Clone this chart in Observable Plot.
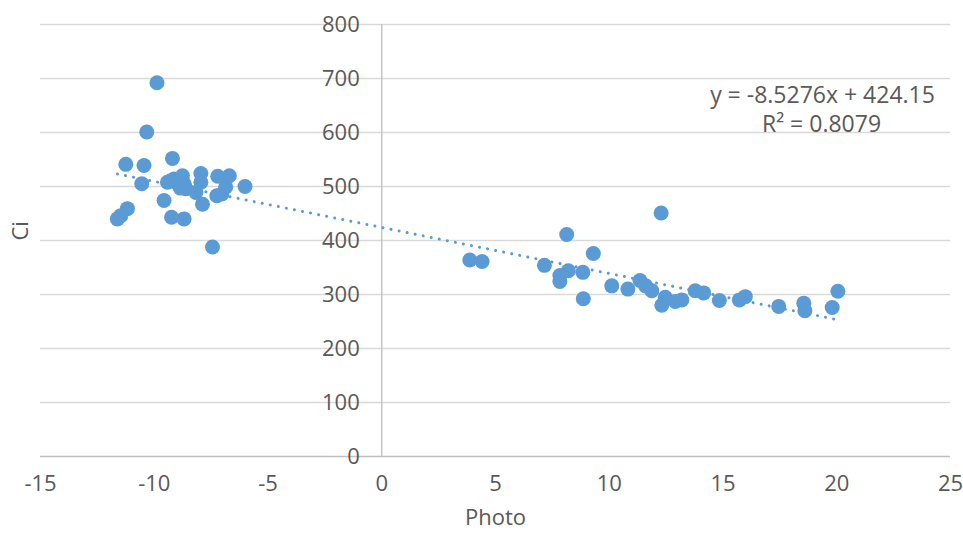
<!DOCTYPE html>
<html>
<head>
<meta charset="utf-8">
<script src="https://cdn.jsdelivr.net/npm/d3@7"></script>
<script src="https://cdn.jsdelivr.net/npm/@observablehq/plot@0.6"></script>
<style>
  html, body { margin: 0; padding: 0; background: #fff; }
  #chart { width: 963px; height: 535px; }
  svg { font-family: "Open Sans", sans-serif; }
</style>
</head>
<body>
<div id="chart"></div>
<script>
// Scatter data: Photo (x) vs Ci (y)
const photo = [
  -9.88, -10.33, -11.25, -10.45, -9.20, -10.55, -9.57, -9.42, -9.13, -8.76,
  -8.69, -8.91, -8.61, -7.95, -7.95, -8.17, -7.88, -7.21, -6.70, -6.86,
  -7.03, -7.25, -6.01, -9.24, -8.69, -11.18, -11.47, -11.62, -7.44, -9.30,
  -8.85,
  3.87, 4.41, 7.15, 8.13, 7.83, 7.83, 8.20, 8.84, 9.30, 8.86, 10.11, 10.82,
  12.28, 11.35, 11.60, 11.87, 12.46, 12.31, 12.90, 13.19, 13.78, 14.15,
  14.84, 15.72, 15.98, 17.45, 18.55, 18.60, 19.80, 20.05
];
const ci = [
  692, 601, 541, 539, 552, 505, 474, 508, 514, 520,
  505, 502, 496, 524, 508, 489, 467, 519, 520, 499,
  486, 483, 500, 443, 440, 459, 446, 440, 388, 510,
  497,
  364, 361, 354, 411, 335, 324, 344, 341, 376, 292, 316, 310,
  451, 326, 316, 307, 295, 280, 287, 290, 307, 303,
  289, 290, 296, 278, 284, 270, 276, 306
];
const xTicks = [-15, -10, -5, 0, 5, 10, 15, 20, 25];
const yTicks = [0, 100, 200, 300, 400, 500, 600, 700, 800];
const slope = -8.5276;
const intercept = 424.15;
const equationLines = ["y = -8.5276x + 424.15", "R² = 0.8079"];
const xTitle = "Photo";
const yTitle = "Ci";

const points = photo.map((x, i) => ({x, y: ci[i]}));
const [xmin, xmax] = d3.extent(photo);
const trend = [xmin, xmax].map(x => ({x, y: slope * x + intercept}));

const blue = "#5B9BD5";
const textColor = "#595959";

const chart = Plot.plot({
  width: 963,
  height: 535,
  marginLeft: 40,
  marginRight: 13,
  marginTop: 24,
  marginBottom: 79,
  x: {domain: [-15, 25], axis: null},
  y: {domain: [0, 800], axis: null},
  marks: [
    Plot.ruleY(yTicks.filter(d => d > 0), {stroke: "#d9d9d9", strokeWidth: 1.3}),
    Plot.ruleY([0], {stroke: "#bfbfbf", strokeWidth: 1.3}),
    Plot.ruleX([0], {stroke: "#bfbfbf", strokeWidth: 1.3}),
    Plot.text(yTicks, {x: 0, y: d => d, text: d => String(d), textAnchor: "end", dx: -22, fill: textColor, fontSize: 22}),
    Plot.text(xTicks, {x: d => d, frameAnchor: "bottom", dy: 34, text: d => String(d), fill: textColor, fontSize: 22}),
    Plot.dot(points, {x: "x", y: "y", r: 7.5, fill: blue, stroke: "none"}),
    Plot.line(trend, {x: "x", y: "y", stroke: blue, strokeWidth: 3, strokeDasharray: "0.01 8.2", strokeLinecap: "round"}),
    Plot.text([xTitle], {frameAnchor: "bottom", dy: 68, text: d => d, fill: textColor, fontSize: 22}),
    Plot.text([yTitle], {frameAnchor: "left", dx: -20, rotate: -90, text: d => d, fill: textColor, fontSize: 22}),
    Plot.text([equationLines[0]], {frameAnchor: "top-right", dx: -128, dy: 62, textAnchor: "middle", text: d => d, fill: textColor, fontSize: 23}),
    Plot.text([equationLines[1]], {frameAnchor: "top-right", dx: -129, dy: 91, textAnchor: "middle", text: d => d, fill: textColor, fontSize: 23})
  ]
});
document.getElementById("chart").appendChild(chart);
</script>
</body>
</html>
